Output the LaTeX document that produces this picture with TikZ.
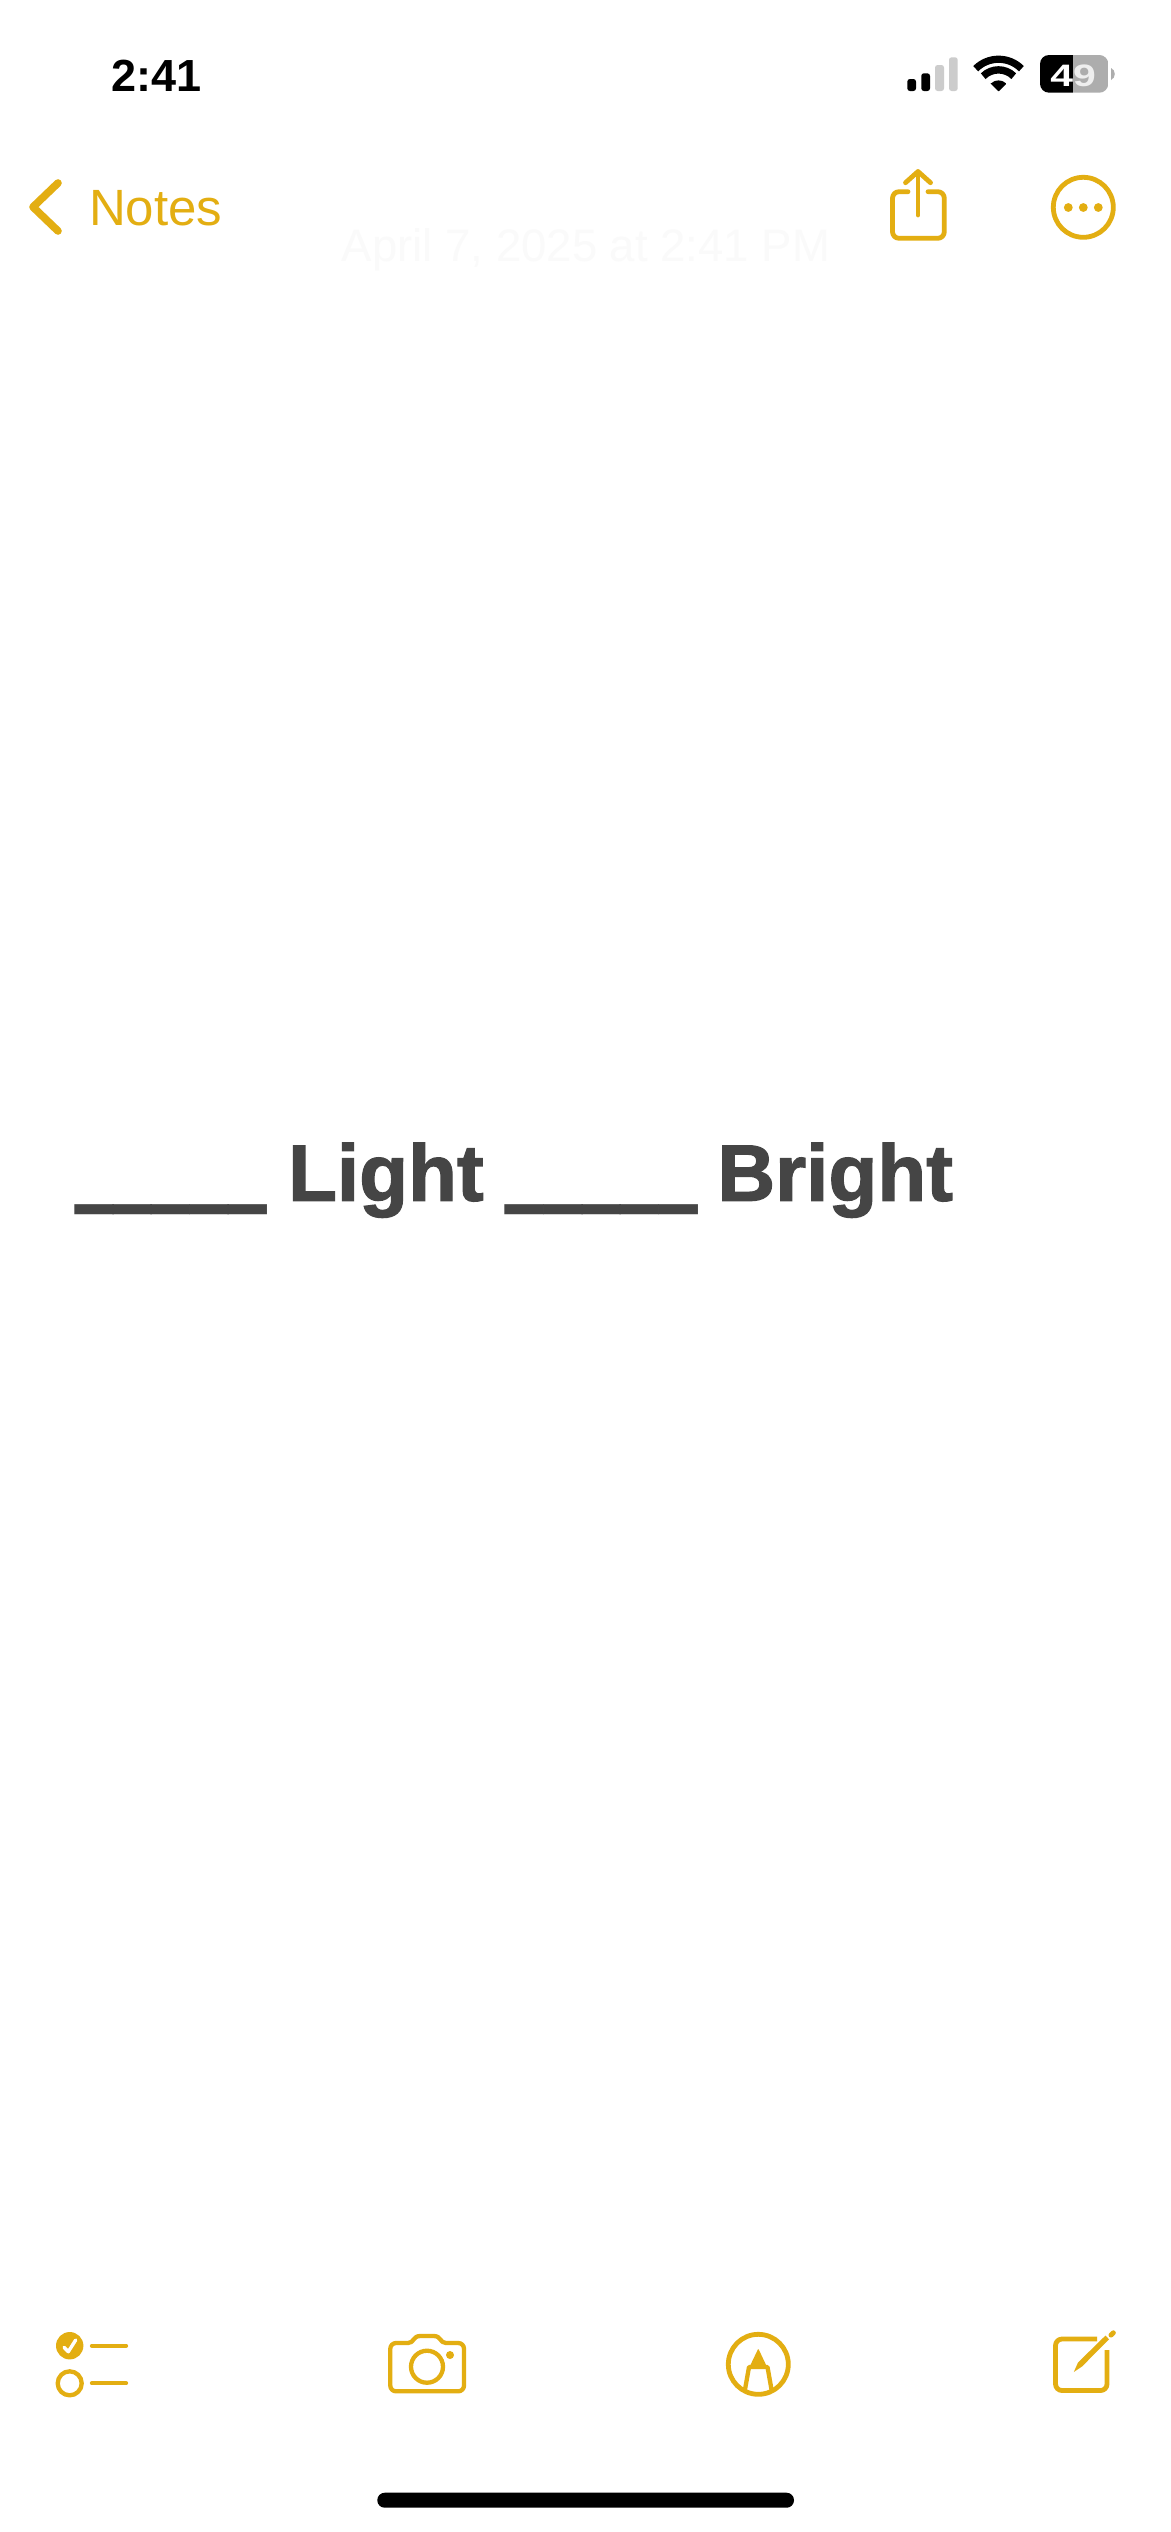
\documentclass[tikz,border=0pt]{standalone}
\usepackage{fontspec}
\usepackage{graphicx}
\setmainfont{Liberation Sans}
\newfontfamily\heavyface[UprightFont=* Bold,FakeBold=1.6]{Liberation Sans}
\definecolor{gold}{HTML}{E3AE12}
\definecolor{ink}{HTML}{454545}
\definecolor{dim}{HTML}{CCCCCC}
\definecolor{batgray}{HTML}{ADADAD}
\definecolor{faint}{HTML}{FAFAFA}
\definecolor{lite}{HTML}{EEEEEE}
\newcommand{\fsz}[1]{\fontsize{#1}{#1}\selectfont}
\newcommand{\blank}{\raisebox{18pt}{\scalebox{0.862}[3.3]{\textbf{\_\_\_\_\_}}}}
\tikzset{
  x=1pt,y=-1pt,
  icon/.style={draw=gold,line width=4.8pt,line cap=round,line join=round},
  thinicon/.style={draw=gold,line width=4.3pt,line cap=round,line join=round},
  txt/.style={inner sep=0pt,outer sep=0pt,anchor=base west},
  bar/.style={rounded corners=2.6pt},
}
\begin{document}
\begin{tikzpicture}
\useasboundingbox (0,0) rectangle (1170,2532);
\fill[white] (0,0) rectangle (1170,2532);
% status bar
\node[txt,text=black] (clock) at (111,91) {\fsz{45}\textbf{2:41}};
\fill[black,bar] (907.3,79) rectangle (916,91);
\fill[black,bar] (921.3,73.3) rectangle (930,91);
\fill[dim,bar] (935,65) rectangle (944,91);
\fill[dim,bar] (949,57.3) rectangle (957.7,91);
% wifi
\coordinate (wf) at (998.5,91.5);
\fill[black,rounded corners=0.6pt] (wf) ++(-7.8,-7.8) -- (wf) -- ++(7.8,-7.8) arc[start angle=-45,end angle=-135,radius=11] -- cycle;
\draw[black,line width=7.4pt] (wf) ++(-15.3,-15.3) arc[start angle=-135,end angle=-45,radius=21.6];
\draw[black,line width=7.2pt] (wf) ++(-22.8,-22.8) arc[start angle=-135,end angle=-45,radius=32.3];
% battery
\begin{scope}
\clip[rounded corners=9pt] (1040,55) rectangle (1108.3,92.7);
\fill[black] (1040,55) rectangle (1073,92.7);
\fill[batgray] (1073,55) rectangle (1108.3,92.7);
\end{scope}
\fill[batgray] (1111,68) .. controls (1116,70) and (1116,78) .. (1111,80) -- cycle;
\node[inner sep=0pt,anchor=base,text=white] (batt) at (1073,86) {\fsz{31}\scalebox{1.32}[1]{\textbf{4\textcolor{lite}{9}}}};
% nav
\draw[icon,line width=7.6pt] (58,183) -- (33,207) -- (58,231);
\node[txt,text=gold] (notes) at (89,225) {\fsz{51}Notes};
\node[inner sep=0pt,anchor=base,text=faint] (date) at (586,261) {\fsz{45.5}April 7, 2025 at 2:41 PM};
% share
\draw[icon] (908,191.7) -- (899,191.7) arc[start angle=-90,end angle=-180,radius=6.5] -- (892.5,231.8) arc[start angle=180,end angle=90,radius=6.5] -- (937.8,238.3) arc[start angle=90,end angle=0,radius=6.5] -- (944.3,198.2) arc[start angle=0,end angle=-90,radius=6.5] -- (928,191.7);
\draw[icon] (918,215) -- (918,172);
\draw[icon] (905.5,182.7) -- (918,171.5) -- (930.5,182.7);
% more
\draw[icon] (1083.3,207.3) circle[radius=30];
\fill[gold] (1068.3,207.5) circle[radius=4.4] (1083.3,207.5) circle[radius=4.4] (1098.3,207.5) circle[radius=4.4];
% main text
\node[txt,text=ink] (line) at (75,1200.7) {\fsz{80}\blank\hspace{-1.5pt} {\heavyface Light} \blank\hspace{-3pt} {\heavyface Bright}};
% checklist
\fill[gold] (69.7,2345.7) circle[radius=13.7];
\draw[white,line width=3.4pt,line cap=round,line join=round] (64,2347.3) -- (68.3,2351.7) -- (75.7,2340);
\draw[thinicon] (69.7,2383.3) circle[radius=12];
\draw[thinicon] (92,2345.7) -- (126,2345.7);
\draw[thinicon] (92,2383.3) -- (126,2383.3);
% camera
\draw[thinicon] (408,2343) -- (396,2343) arc[start angle=-90,end angle=-180,radius=5.7] -- (390.3,2385.6) arc[start angle=180,end angle=90,radius=5.7] -- (458.3,2391.3) arc[start angle=90,end angle=0,radius=5.7] -- (464,2348.7) arc[start angle=0,end angle=-90,radius=5.7] -- (446,2343) .. controls (440,2343) and (441,2336) .. (434,2336) -- (420,2336) .. controls (413,2336) and (414,2343) .. (408,2343) -- cycle;
\draw[thinicon] (427,2366.7) circle[radius=16];
\fill[gold] (450,2355) circle[radius=4];
% markup
\draw[icon] (758.3,2364.3) circle[radius=30];
\fill[gold,rounded corners=1pt] (758.3,2348.5) -- (767.5,2368) -- (749,2368) -- cycle;
\draw[thinicon,line cap=butt] (771.5,2389.5) -- (767.5,2367) -- (749,2367) -- (745,2389.5);
% compose
\draw[icon,line cap=butt] (1097,2339) -- (1062,2339) arc[start angle=-90,end angle=-180,radius=6.5] -- (1055.5,2384) arc[start angle=180,end angle=90,radius=6.5] -- (1100.5,2390.5) arc[start angle=90,end angle=0,radius=6.5] -- (1107,2350);
\fill[gold] (1073.8,2372) -- (1078,2362.5) -- (1105.5,2335.5) -- (1109,2339.3) -- (1082,2366.5) -- cycle;
\draw[gold,line width=5pt,line cap=round] (1111,2335) -- (1113.3,2332.8);
% home bar
\fill[black,rounded corners=7.4pt] (377.3,2492.7) rectangle (794,2507.7);
\end{tikzpicture}
\end{document}
